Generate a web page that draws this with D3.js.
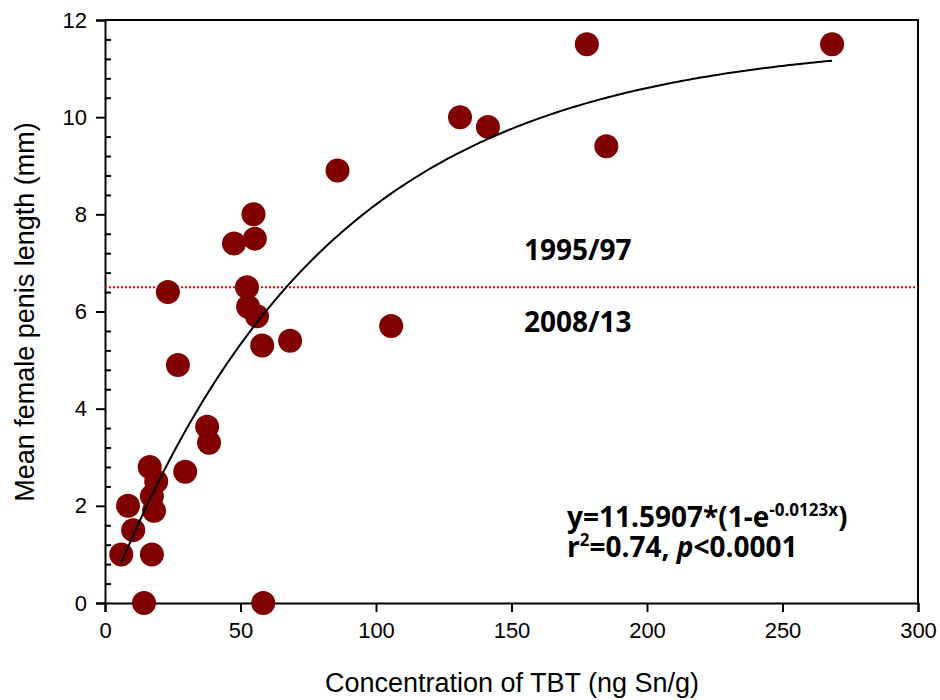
<!DOCTYPE html>
<html>
<head>
<meta charset="utf-8">
<script src="https://cdn.jsdelivr.net/npm/d3@7"></script>
<style>
  html, body { margin: 0; padding: 0; background: #fff; }
  svg { display: block; }
  text { font-family: "Liberation Sans", Arial, sans-serif; fill: #000; }
  .note { font-family: "Open Sans", "Lato", sans-serif; font-weight: 700; }
</style>
</head>
<body>
<svg id="chart" width="940" height="700"></svg>
<script>
// TBT concentration (ng Sn/g) and mean female penis length (mm) per site
const tbt = [6, 8.5, 10.4, 14.4, 16.5, 17.3, 17.3, 18.1, 18.9, 23.2, 26.9, 29.6,
             37.7, 38.4, 47.6, 52.4, 52.8, 54.8, 55.3, 56.1, 58.0, 58.4, 68.3,
             85.8, 105.6, 131.0, 141.3, 177.8, 185.0, 268.3];
const penisLength = [1.0, 2.0, 1.5, 0.0, 2.8, 1.0, 2.2, 1.9, 2.5, 6.4, 4.9, 2.7,
                     3.63, 3.3, 7.4, 6.5, 6.1, 8.0, 7.5, 5.9, 5.3, 0.0, 5.4,
                     8.9, 5.7, 10.0, 9.8, 11.5, 9.4, 11.5];

// Fitted model y = a * (1 - exp(b * x))
const fitA = 11.5907;
const fitB = -0.0123;

// Threshold separating the two sampling periods
const periodThreshold = 6.5;
const periodLabels = ["1995/97", "2008/13"];

const xTicks = [0, 50, 100, 150, 200, 250, 300];
const yTicks = [0, 2, 4, 6, 8, 10, 12];

const svg = d3.select("#chart");
const pLeft = 105, pTop = 20, pRight = 918, pBottom = 603;

const x = d3.scaleLinear().domain([0, 300]).range([pLeft, pRight]);
const y = d3.scaleLinear().domain([0, 12]).range([pBottom, pTop]);

// Frame (top and right edges)
svg.append("path")
  .attr("d", `M${pLeft},${pTop}H${pRight}V${pBottom}`)
  .attr("fill", "none").attr("stroke", "#000").attr("stroke-width", 2);

// X axis
svg.append("g").attr("transform", `translate(0,${pBottom})`)
  .call(d3.axisBottom(x).tickValues(xTicks).tickSize(9).tickPadding(10).tickFormat(d3.format("d")));
// Y axis: major ticks outside
svg.append("g").attr("transform", `translate(${pLeft},0)`)
  .call(d3.axisLeft(y).tickValues(yTicks).tickSize(9).tickPadding(9).tickFormat(d3.format("d")));
// Y axis: minor ticks inside
const yMinor = d3.range(0, 12.001, 0.4).filter(v => Math.abs(v / 2 - Math.round(v / 2)) > 1e-6);
svg.append("g").attr("transform", `translate(${pLeft},0)`)
  .call(d3.axisRight(y).tickValues(yMinor).tickSize(6).tickFormat(""))
  .call(g => g.select(".domain").remove());

svg.selectAll(".domain").attr("stroke-width", 2);
svg.selectAll(".tick line").attr("stroke-width", 2);
svg.selectAll(".tick text").style("font-size", "22px").style("font-family", "Liberation Sans, Arial, sans-serif");

// Period threshold line
svg.append("line")
  .attr("x1", pLeft).attr("x2", pRight)
  .attr("y1", y(periodThreshold)).attr("y2", y(periodThreshold))
  .attr("stroke", "#ff0000").attr("stroke-width", 2).attr("stroke-dasharray", "2,2");

// Data points
svg.append("g").selectAll("circle")
  .data(tbt.map((v, i) => [v, penisLength[i]]))
  .join("circle")
  .attr("cx", d => x(d[0]))
  .attr("cy", d => y(d[1]))
  .attr("r", 12)
  .attr("fill", "#800000");

// Fitted curve across the observed concentration range
const xMin = d3.min(tbt), xMax = d3.max(tbt);
const curvePts = d3.range(0, 201).map(i => {
  const xv = xMin + (xMax - xMin) * i / 200;
  return [xv, fitA * (1 - Math.exp(fitB * xv))];
});
svg.append("path")
  .datum(curvePts)
  .attr("fill", "none").attr("stroke", "#000").attr("stroke-width", 2)
  .attr("d", d3.line().x(d => x(d[0])).y(d => y(d[1])));

// Period labels
svg.append("text").attr("class", "note").attr("x", 524).attr("y", 260)
  .style("font-size", "28px").text(periodLabels[0]);
svg.append("text").attr("class", "note").attr("x", 524).attr("y", 332)
  .style("font-size", "28px").text(periodLabels[1]);

// Model equation and fit statistics
const eq = svg.append("text").attr("class", "note").attr("x", 567).attr("y", 527)
  .style("font-size", "28px");
eq.append("tspan").text(`y=${fitA}*(1-e`);
eq.append("tspan").attr("dy", -11).style("font-size", "17px").text(`${fitB}x`);
eq.append("tspan").attr("dy", 11).text(")");

const st = svg.append("text").attr("class", "note").attr("x", 567).attr("y", 557)
  .style("font-size", "28px");
st.append("tspan").text("r");
st.append("tspan").attr("dy", -11).style("font-size", "17px").text("2");
st.append("tspan").attr("dy", 11).text("=0.74, ");
st.append("tspan").style("font-style", "italic").text("p");
st.append("tspan").text("<0.0001");

// Axis titles
svg.append("text").attr("x", 512).attr("y", 692)
  .attr("text-anchor", "middle").style("font-size", "27px")
  .text("Concentration of TBT (ng Sn/g)");
svg.append("text")
  .attr("transform", `translate(34,${312}) rotate(-90)`)
  .attr("text-anchor", "middle").style("font-size", "27px")
  .text("Mean female penis length (mm)");
</script>
</body>
</html>
